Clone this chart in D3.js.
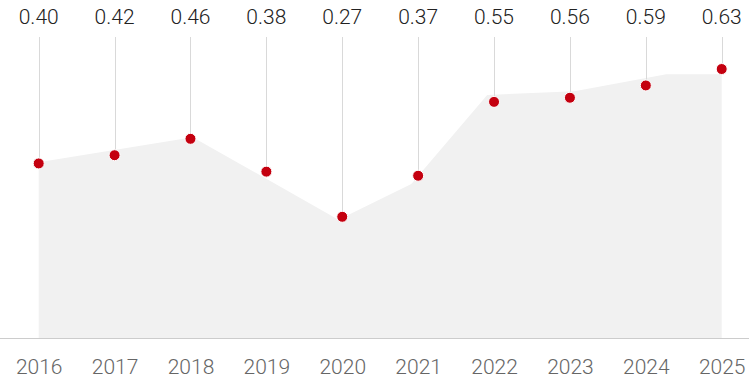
<!DOCTYPE html>
<html>
<head>
<meta charset="utf-8">
<script src="https://cdn.jsdelivr.net/npm/d3@7/dist/d3.min.js"></script>
<style>
  html, body { margin: 0; padding: 0; background: #fff; }
  svg { display: block; font-family: Roboto, "Liberation Sans", Arial, sans-serif; font-weight: 300; }
</style>
</head>
<body>
<svg id="chart" width="749" height="380"></svg>
<script>
// Yearly values shown as dots with labels above
const years = [2016, 2017, 2018, 2019, 2020, 2021, 2022, 2023, 2024, 2025];
const values = [0.40, 0.42, 0.46, 0.38, 0.27, 0.37, 0.55, 0.56, 0.59, 0.63];
const valueLabels = ["0.40", "0.42", "0.46", "0.38", "0.27", "0.37", "0.55", "0.56", "0.59", "0.63"];
const yearLabels = ["2016", "2017", "2018", "2019", "2020", "2021", "2022", "2023", "2024", "2025"];

// Background trend band (fractional year positions)
const bandYears = [2016, 2018.03, 2019.95, 2020.91, 2021.91, 2023.06, 2024.27, 2025];
const bandValues = [0.403, 0.464, 0.263, 0.350, 0.567, 0.576, 0.617, 0.617];

const width = 749, height = 380;
const baseY = 338;      // axis line
const stemTop = 37;     // top of the drop lines

const svg = d3.select("#chart");

const x = d3.scaleLinear().domain([2016, 2025]).range([38.7, 721.7]);
const y = d3.scaleLinear().domain([0, 0.7]).range([327.6, 40.3]);

// Shaded area
const area = d3.area()
  .x(d => x(d[0]))
  .y0(baseY)
  .y1(d => y(d[1]));

svg.append("path")
  .datum(bandYears.map((yr, i) => [yr, bandValues[i]]))
  .attr("d", area)
  .attr("fill", "#f1f1f1");

// Axis baseline
svg.append("line")
  .attr("x1", 0).attr("x2", width)
  .attr("y1", baseY + 0.5).attr("y2", baseY + 0.5)
  .attr("stroke", "#cccccc")
  .attr("stroke-width", 1);

// Bottom axis with year labels
const axis = d3.axisBottom(x)
  .tickValues(years)
  .tickFormat((d, i) => yearLabels[i])
  .tickSize(0)
  .tickPadding(0);

const gAxis = svg.append("g")
  .attr("transform", `translate(0, ${baseY})`)
  .call(axis);
gAxis.select(".domain").remove();
gAxis.selectAll("text")
  .attr("y", 36)
  .attr("dy", 0)
  .attr("font-size", 21)
  .attr("font-family", "Roboto, 'Liberation Sans', Arial, sans-serif")
  .attr("font-weight", 300)
  .attr("fill", "#666666");

// Drop lines from label to dot
svg.append("g")
  .selectAll("line")
  .data(values)
  .join("line")
  .attr("x1", (d, i) => Math.round(x(years[i])) + 0.5)
  .attr("x2", (d, i) => Math.round(x(years[i])) + 0.5)
  .attr("y1", stemTop)
  .attr("y2", d => y(d))
  .attr("stroke", "#d9d9d9")
  .attr("stroke-width", 1);

// Dots
svg.append("g")
  .selectAll("circle")
  .data(values)
  .join("circle")
  .attr("cx", (d, i) => x(years[i]))
  .attr("cy", d => y(d))
  .attr("r", 5.5)
  .attr("fill", "#c4000f")
  .attr("stroke", "#ffffff")
  .attr("stroke-width", 1);

// Value labels at the top
svg.append("g")
  .selectAll("text")
  .data(values)
  .join("text")
  .attr("x", (d, i) => x(years[i]))
  .attr("y", 23.5)
  .attr("text-anchor", "middle")
  .attr("font-size", 21)
  .attr("font-weight", 300)
  .attr("fill", "#222222")
  .text((d, i) => valueLabels[i]);
</script>
</body>
</html>
